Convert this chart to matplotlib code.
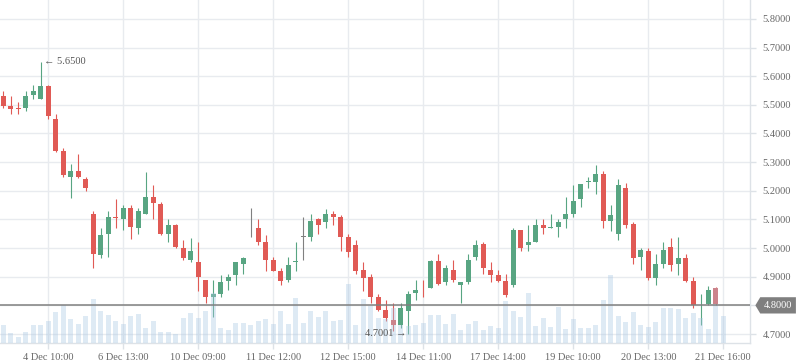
import matplotlib
matplotlib.use("Agg")
import matplotlib.pyplot as plt
from matplotlib.path import Path
import numpy as np

# ---------------- data ----------------
opens = [5.530, 5.495, 5.490, 5.490, 5.535, 5.521, 5.565, 5.450, 5.338, 5.249,
         5.269, 5.241, 5.119, 4.977, 5.050, 5.108, 5.102, 5.140, 5.071, 5.120,
         5.178, 5.153, 5.050, 5.080, 5.000, 4.959, 4.951, 4.888, 4.830, 4.841,
         4.885, 4.906, 4.944, 5.069, 5.070, 5.021, 4.958, 4.920, 4.888, 4.951,
         5.038, 5.038, 5.101, 5.091, 5.119, 5.108, 5.038, 5.010, 4.923, 4.899,
         4.830, 4.785, 4.750, 4.733, 4.781, 4.844, 4.851, 4.862, 4.955, 4.881,
         4.923, 4.871, 4.881, 4.969, 5.014, 4.923, 4.906, 4.885, 4.871, 5.063,
         5.010, 5.021, 5.080, 5.071, 5.073, 5.101, 5.119, 5.171, 5.231, 5.230,
         5.258, 5.094, 5.049, 5.209, 5.084, 4.969, 4.990, 4.895, 4.944, 5.003,
         4.944, 4.965, 4.885, 4.800, 4.806, 4.860, 4.800]
highs = [5.548, 5.530, 5.509, 5.548, 5.569, 5.650, 5.569, 5.467, 5.349, 5.293,
         5.328, 5.248, 5.129, 5.070, 5.129, 5.171, 5.150, 5.150, 5.140, 5.265,
         5.220, 5.160, 5.102, 5.084, 5.028, 5.035, 5.021, 4.888, 4.888, 4.906,
         4.909, 4.951, 4.969, 5.140, 5.102, 5.045, 4.969, 4.930, 4.969, 5.021,
         5.108, 5.119, 5.105, 5.136, 5.129, 5.115, 5.049, 5.028, 4.951, 4.909,
         4.841, 4.820, 4.809, 4.809, 4.851, 4.888, 4.888, 4.958, 4.979, 4.941,
         4.958, 4.881, 4.979, 5.028, 5.021, 4.951, 4.923, 4.909, 5.070, 5.063,
         5.080, 5.101, 5.101, 5.119, 5.101, 5.178, 5.220, 5.223, 5.248, 5.290,
         5.269, 5.150, 5.241, 5.227, 5.091, 5.000, 5.000, 4.979, 5.021, 5.035,
         5.038, 4.979, 4.899, 4.841, 4.869, 4.864, 4.800]
lows = [5.490, 5.469, 5.469, 5.479, 5.521, 5.521, 5.451, 5.335, 5.249, 5.176,
        5.245, 5.200, 4.931, 4.966, 4.970, 5.070, 5.064, 5.033, 5.050, 5.120,
        5.102, 5.047, 5.022, 5.000, 4.959, 4.952, 4.851, 4.809, 4.760, 4.830,
        4.855, 4.871, 4.909, 5.038, 5.010, 4.920, 4.920, 4.871, 4.881, 4.920,
        4.958, 5.024, 5.049, 5.070, 5.080, 4.990, 4.969, 4.909, 4.851, 4.809,
        4.781, 4.747, 4.712, 4.722, 4.7001, 4.820, 4.830, 4.862, 4.871, 4.871,
        4.881, 4.809, 4.874, 4.958, 4.909, 4.881, 4.881, 4.830, 4.864, 4.990,
        4.990, 5.021, 5.049, 5.070, 5.038, 5.070, 5.108, 5.143, 5.209, 5.188,
        5.070, 5.059, 5.028, 5.070, 4.944, 4.923, 4.888, 4.871, 4.930, 4.920,
        4.906, 4.881, 4.792, 4.733, 4.802, 4.802, 4.800]
closes = [5.497, 5.487, 5.484, 5.530, 5.548, 5.565, 5.462, 5.340, 5.256, 5.269,
          5.249, 5.210, 4.980, 5.045, 5.108, 5.106, 5.140, 5.074, 5.129, 5.178,
          5.158, 5.050, 5.080, 5.003, 4.966, 4.990, 4.900, 4.830, 4.841, 4.881,
          4.899, 4.951, 4.965, 5.069, 5.021, 4.958, 4.920, 4.885, 4.941, 4.955,
          5.038, 5.094, 5.080, 5.119, 5.108, 5.038, 4.986, 4.920, 4.895, 4.830,
          4.785, 4.757, 4.733, 4.792, 4.841, 4.855, 4.849, 4.955, 4.874, 4.930,
          4.888, 4.881, 4.958, 5.010, 4.930, 4.906, 4.885, 4.837, 5.063, 5.000,
          5.021, 5.080, 5.070, 5.073, 5.091, 5.119, 5.164, 5.223, 5.234, 5.258,
          5.094, 5.115, 5.220, 5.080, 4.965, 4.993, 4.895, 4.944, 4.993, 4.941,
          4.965, 4.885, 4.801, 4.802, 4.853, 4.806, 4.800]
volumes = [55, 31, 19, 34, 55, 55, 67, 94, 115, 73,
           58, 82, 133, 97, 85, 67, 58, 82, 88, 46,
           67, 34, 34, 28, 76, 91, 76, 97, 151, 46,
           40, 61, 61, 55, 67, 73, 58, 97, 58, 136,
           61, 97, 79, 97, 67, 70, 178, 55, 133, 112,
           76, 72, 104, 55, 52, 55, 61, 85, 85, 58,
           88, 40, 58, 67, 40, 52, 46, 127, 97, 79,
           151, 52, 76, 49, 109, 43, 73, 46, 46, 55,
           130, 205, 82, 64, 94, 55, 49, 64, 106, 106,
           103, 76, 91, 76, 43, 166, 82]
tick_idx = [6, 16, 26, 36, 46, 56, 66, 76, 86, 96]
tick_labels = ["4 Dec 10:00", "6 Dec 13:00", "10 Dec 09:00", "11 Dec 12:00",
               "12 Dec 15:00", "14 Dec 11:00", "17 Dec 14:00", "19 Dec 10:00",
               "20 Dec 13:00", "21 Dec 16:00"]
price_ticks = [4.7, 4.8, 4.9, 5.0, 5.1, 5.2, 5.3, 5.4, 5.5, 5.6, 5.7, 5.8]
last_price = 4.80
high_label = "\u2190 5.6500"
low_label = "4.7001 \u2192"

# ---------------- style ----------------
plt.rcParams["font.family"] = ["Liberation Serif", "DejaVu Serif", "DejaVu Sans"]
FS = 7.5
UP = "#58a582"
DOWN = "#e05a55"
FLAT = "#808080"
GRID = "#e8ebef"
AXIS = "#dde2e7"
TXT = "#666666"

o = np.array(opens); h = np.array(highs); l = np.array(lows); c = np.array(closes)
x = np.arange(len(o))
cols = [UP if cc > oo else (DOWN if cc < oo else FLAT) for oo, cc in zip(o, c)]

fig = plt.figure(figsize=(7.98, 3.63), dpi=100)
rect = [0.0, 20 / 363, 750 / 798, 343 / 363]
ax = fig.add_axes(rect)
xlim = (-0.44, 99.56)
ax.set_xlim(*xlim)
ax.set_ylim(4.6686, 5.866)

ax.grid(True, color=GRID, lw=1.0)
ax.set_axisbelow(True)

ax.vlines(x, l, h, colors=cols, lw=0.8, zorder=2)
body_bottom = np.minimum(o, c)
body_h = np.maximum(np.abs(c - o), 0.0025)
ax.bar(x, body_h, bottom=body_bottom, width=0.66, color=cols, zorder=3)

for s in ["left", "top"]:
    ax.spines[s].set_visible(False)
for s in ["right", "bottom"]:
    ax.spines[s].set_color(AXIS)
    ax.spines[s].set_linewidth(1.0)

ax.yaxis.tick_right()
ax.set_yticks(price_ticks)
ax.set_yticklabels([f"{p:.4f}" for p in price_ticks])
ax.set_xticks(tick_idx)
ax.set_xticklabels(tick_labels)
ax.tick_params(axis="both", colors=AXIS, labelcolor=TXT, labelsize=FS, length=4, width=1)
ax.tick_params(axis="y", pad=5)
ax.tick_params(axis="x", pad=3)

# volume overlay
axv = fig.add_axes(rect)
axv.set_autoscale_on(False)
axv.bar(x, volumes, width=0.66, color="#a9c8e4", alpha=0.38, zorder=1)
axv.plot(xlim, [last_price, last_price], transform=ax.transData,
         color="#808080", lw=1.1, zorder=4)
axv.annotate(high_label, xy=(5, 5.65), xycoords=ax.transData, xytext=(2, 0),
             textcoords="offset points", ha="left", va="center", fontsize=FS, color="#555555")
axv.annotate(low_label, xy=(54, 4.7001), xycoords=ax.transData, xytext=(-1.5, 0),
             textcoords="offset points", ha="right", va="center", fontsize=FS, color="#555555")
axv.set_xlim(*xlim)
axv.set_ylim(0, 1029)
axv.axis("off")


def tag_box(x0, y0, width, height, mutation_size):
    pad = 0.35 * mutation_size
    x0, y0 = x0 - pad, y0 - pad
    x1, y1 = x0 + width + 2 * pad, y0 + height + 2 * pad
    hh = (y1 - y0) / 2
    verts = [(x0 - hh * 0.6, y0 + hh), (x0, y1), (x1, y1), (x1, y0), (x0, y0),
             (x0 - hh * 0.6, y0 + hh)]
    return Path(verts, closed=True)


ax.annotate(f"{last_price:.4f}", xy=(1.0, last_price), xycoords=("axes fraction", "data"),
            xytext=(10, 0), textcoords="offset points", ha="left", va="center",
            fontsize=FS, color="white", annotation_clip=False, zorder=10,
            bbox=dict(boxstyle=tag_box, fc="#7f7f7f", ec="none"))

fig.savefig("out.png", dpi=100)
